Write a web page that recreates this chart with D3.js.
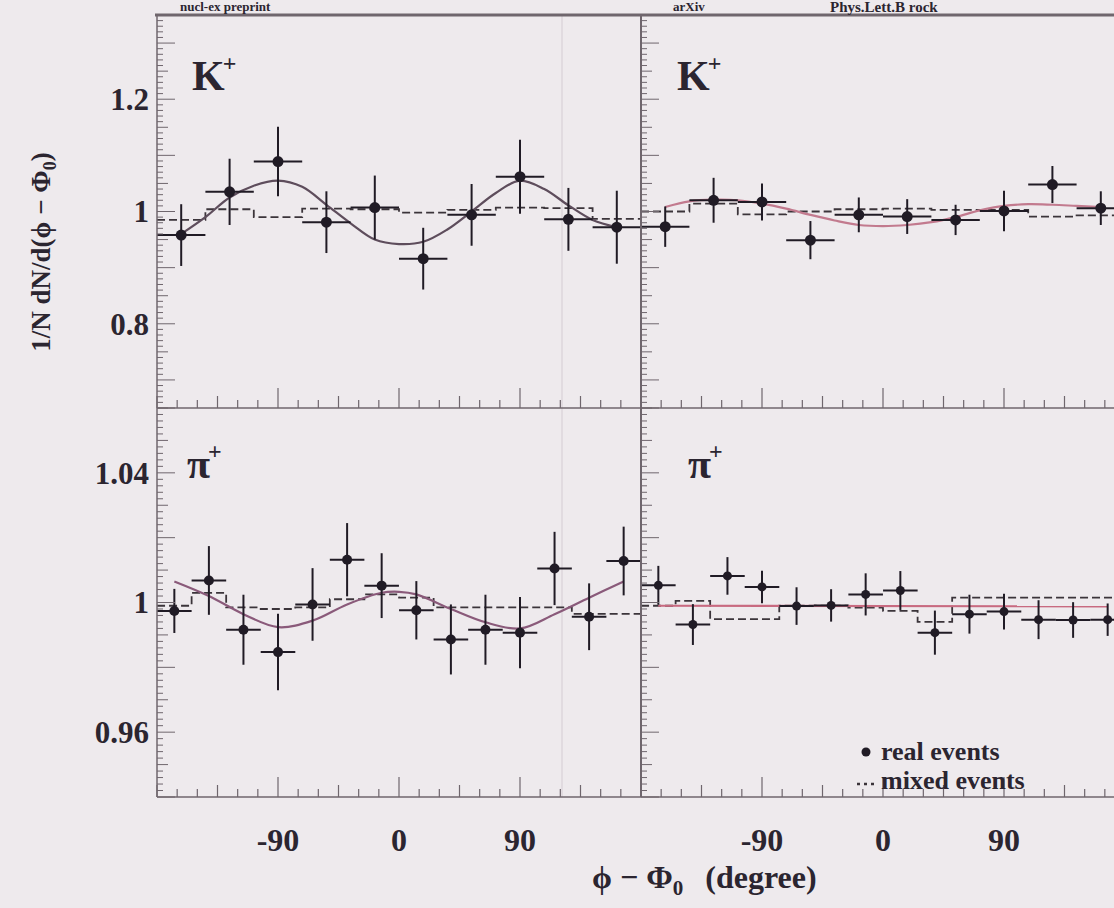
<!DOCTYPE html>
<html><head><meta charset="utf-8">
<script src="https://cdn.jsdelivr.net/npm/d3@7"></script>
<style>
html,body{margin:0;padding:0;background:#eeeaed;}
svg{display:block;}
text{font-family:"Liberation Serif","Times New Roman",serif;font-weight:bold;fill:#2b2530;}
</style></head><body>
<svg id="c" width="1114" height="908"></svg>
<script>
// ---------------- data ----------------
const kPhi  = [-162,-126,-90,-54,-18,18,54,90,126,162];
const piPhi = [-167.1,-141.4,-115.7,-90,-64.3,-38.6,-12.9,12.9,38.6,64.3,90,115.7,141.4,167.1];

// top-left K+
const kLReal  = [0.958,1.035,1.089,0.981,1.007,0.916,0.994,1.062,0.986,0.972];
const kLErr   = [0.055,0.059,0.062,0.055,0.057,0.055,0.055,0.066,0.056,0.065];
const kLMixed = [0.985,1.004,0.990,1.005,1.004,0.998,1.003,1.007,1.006,0.987];
const kLFitPhi = [-162,-144,-126,-108,-90,-72,-54,-36,-18,0,18,36,54,72,90,108,126,144,162];
const kLFitVal = [0.960,0.990,1.025,1.046,1.055,1.044,1.012,0.979,0.950,0.942,0.946,0.968,1.000,1.033,1.055,1.040,1.011,0.985,0.972];

// top-right K+
const kRReal  = [0.973,1.020,1.017,0.949,0.994,0.991,0.985,1.001,1.048,1.006];
const kRErr   = [0.036,0.040,0.033,0.034,0.031,0.031,0.027,0.036,0.033,0.030];
const kRMixed = [1.000,1.014,0.995,1.000,1.004,1.005,1.003,1.003,0.991,0.993];
const kRFitPhi = [-162,-144,-126,-108,-90,-72,-54,-36,-18,0,18,36,54,72,90,108,126,144,162];
const kRFitVal = [1.008,1.018,1.021,1.020,1.014,1.005,0.994,0.984,0.976,0.974,0.976,0.981,0.990,1.002,1.010,1.013,1.012,1.010,1.008];

// bottom-left pi+
const pLReal  = [0.9974,1.0068,0.9916,0.9847,0.9994,1.0132,1.0052,0.9976,0.9886,0.9916,0.9907,1.0105,0.9956,1.0128];
const pLErr   = [0.0068,0.0106,0.0108,0.0118,0.0112,0.0113,0.0100,0.0090,0.0108,0.0108,0.0110,0.0113,0.0103,0.0106];
const pLMixed = [0.9990,1.0030,0.9985,0.9980,0.9985,1.0010,1.0025,1.0015,0.9985,0.9985,0.9985,0.9985,0.9965,0.9965];
const pLFitPhi = [-167.1,-141.4,-115.7,-90,-64.3,-38.6,-12.9,0,12.9,38.6,64.3,90,115.7,141.4,167.1];
const pLFitVal = [1.0065,1.0020,0.9964,0.9924,0.9944,0.9994,1.0030,1.0033,1.0025,0.9980,0.9939,0.9920,0.9964,1.0015,1.0065];

// bottom-right pi+
const pRReal  = [1.0053,0.9932,1.0082,1.0048,0.9989,0.9991,1.0025,1.0037,0.9907,0.9964,0.9972,0.9947,0.9946,0.9947];
const pRErr   = [0.0060,0.0063,0.0058,0.0050,0.0058,0.0050,0.0065,0.0060,0.0068,0.0060,0.0055,0.0060,0.0055,0.0050];
const pRMixed = [0.9990,1.0005,0.9949,0.9949,0.9990,0.9990,0.9984,0.9974,0.9940,1.0015,1.0015,1.0015,1.0015,1.0015];
const pRFitPhi = [-167.1,167.1];
const pRFitVal = [0.9990,0.9988];

const xDomain = [-180,180];
const xLabelTicks = [-90,0,90];
const topDomain = [0.65,1.35];
const topLabelTicks = [0.8,1,1.2];
const botDomain = [0.94,1.06];
const botLabelTicks = [0.96,1,1.04];
const legendItems = ["real events","mixed events"];
const headerTexts = ["nucl-ex preprint","arXiv","Phys.Lett.B rock"];

// ---------------- layout ----------------
const svg = d3.select("#c");
const L = 157, M = 641, R = 1125, T = 15, MY = 408, B = 797;
const frameCol = "#6f666d", inkCol = "#201b25";

const xL = d3.scaleLinear().domain(xDomain).range([L, M]);
const xR = d3.scaleLinear().domain(xDomain).range([M, R]);
const yT = d3.scaleLinear().domain(topDomain).range([MY, T]);
const yB = d3.scaleLinear().domain(botDomain).range([B, MY]);

// faint scan line
svg.append("line").attr("x1",562).attr("x2",562).attr("y1",T).attr("y2",B)
  .attr("stroke","#d9d1d7").attr("stroke-width",1.2);

function panel(xs, ys, phi, real, err, mixed, fitPhi, fitVal, fitCol, r) {
  const g = svg.append("g");
  const n = phi.length, hw = 180 / n;
  const steps = [];
  phi.forEach((p, i) => { steps.push([p - hw, mixed[i]], [p + hw, mixed[i]]); });
  g.append("path").attr("d", d3.line().x(d => xs(d[0])).y(d => ys(d[1]))(steps))
    .attr("fill","none").attr("stroke","#3b343a").attr("stroke-width",1.8)
    .attr("stroke-dasharray","8,4");
  const fit = fitPhi.map((p, i) => [p, fitVal[i]]);
  g.append("path").attr("d", d3.line().curve(d3.curveCatmullRom).x(d => xs(d[0])).y(d => ys(d[1]))(fit))
    .attr("fill","none").attr("stroke",fitCol).attr("stroke-width",2.2);
  const pts = phi.map((p, i) => ({p, v: real[i], e: err[i]}));
  g.selectAll(".eh").data(pts).join("line")
    .attr("x1", d => xs(d.p - hw)).attr("x2", d => xs(d.p + hw))
    .attr("y1", d => ys(d.v)).attr("y2", d => ys(d.v))
    .attr("stroke", inkCol).attr("stroke-width", 2);
  g.selectAll(".ev").data(pts).join("line")
    .attr("x1", d => xs(d.p)).attr("x2", d => xs(d.p))
    .attr("y1", d => ys(d.v - d.e)).attr("y2", d => ys(d.v + d.e))
    .attr("stroke", inkCol).attr("stroke-width", 2);
  g.selectAll("circle").data(pts).join("circle")
    .attr("cx", d => xs(d.p)).attr("cy", d => ys(d.v)).attr("r", r)
    .attr("fill", inkCol);
}

panel(xL, yT, kPhi, kLReal, kLErr, kLMixed, kLFitPhi, kLFitVal, "#5e4d5c", 5.5);
panel(xR, yT, kPhi, kRReal, kRErr, kRMixed, kRFitPhi, kRFitVal, "#c27a8e", 5.5);
panel(xL, yB, piPhi, pLReal, pLErr, pLMixed, pLFitPhi, pLFitVal, "#8a5a7a", 5);
panel(xR, yB, piPhi, pRReal, pRErr, pRMixed, pRFitPhi, pRFitVal, "#c86a80", 4.5);

// ---------------- axes ----------------
function yTicks(x0, ys, dom, minor, mid, major) {
  const vals = d3.range(Math.round(dom[0]/minor), Math.round(dom[1]/minor) + 1).map(k => k * minor);
  svg.append("g").selectAll("line").data(vals).join("line")
    .attr("x1", x0).attr("y1", d => ys(d)).attr("y2", d => ys(d))
    .attr("x2", d => {
      const isMaj = Math.abs(d/major - Math.round(d/major)) < 1e-6;
      const isMid = Math.abs(d/mid - Math.round(d/mid)) < 1e-6;
      return x0 + (isMaj ? 18 : isMid ? 11 : 6);
    })
    .attr("stroke", frameCol).attr("stroke-width", 1);
}
yTicks(L, yT, topDomain, 0.01, 0.05, 0.1);
yTicks(M, yT, topDomain, 0.01, 0.05, 0.1);
yTicks(L, yB, botDomain, 0.002, 0.01, 0.02);
yTicks(M, yB, botDomain, 0.002, 0.01, 0.02);

function xTicks(xs, y0) {
  const vals = d3.range(-180, 181, 15);
  svg.append("g").selectAll("line").data(vals).join("line")
    .attr("x1", d => xs(d)).attr("x2", d => xs(d)).attr("y1", y0)
    .attr("y2", d => y0 - (xLabelTicks.includes(d) ? 20 : d % 45 === 0 ? 12 : 8))
    .attr("stroke", frameCol).attr("stroke-width", 1.2);
}
xTicks(xL, MY); xTicks(xR, MY); xTicks(xL, B); xTicks(xR, B);

// frame
const frame = svg.append("g").attr("stroke", frameCol).attr("fill","none");
frame.append("line").attr("x1", L - 2).attr("x2", 1114).attr("y1", T).attr("y2", T).attr("stroke-width", 3);
frame.append("line").attr("x1", L).attr("x2", L).attr("y1", T).attr("y2", B).attr("stroke-width", 1.5);
frame.append("line").attr("x1", M).attr("x2", M).attr("y1", T).attr("y2", B).attr("stroke-width", 2);
frame.append("line").attr("x1", L).attr("x2", 1114).attr("y1", MY).attr("y2", MY).attr("stroke-width", 1.5);
frame.append("line").attr("x1", L).attr("x2", 1114).attr("y1", B).attr("y2", B).attr("stroke-width", 1.5);

// tick labels
svg.append("g").selectAll("text").data(topLabelTicks).join("text")
  .attr("x", 149).attr("y", d => yT(d)).attr("dy", "0.35em")
  .attr("text-anchor", "end").attr("font-size", 31).text(d => d3.format("")(d));
svg.append("g").selectAll("text").data(botLabelTicks).join("text")
  .attr("x", 149).attr("y", d => yB(d)).attr("dy", "0.35em")
  .attr("text-anchor", "end").attr("font-size", 31).text(d => d3.format("")(d));
[xL, xR].forEach(xs => {
  svg.append("g").selectAll("text").data(xLabelTicks).join("text")
    .attr("x", d => xs(d)).attr("y", 851)
    .attr("text-anchor", "middle").attr("font-size", 32).text(d => d);
});

// panel labels
function plabel(x, y, base) {
  const t = svg.append("text").attr("x", x).attr("y", y).attr("font-size", 42);
  t.append("tspan").text(base);
  t.append("tspan").attr("font-size", 24).attr("dy", -19).attr("dx", -2).text("+");
}
plabel(192, 90, "K"); plabel(677, 90, "K");
plabel(187, 478, "π"); plabel(688, 478, "π");

// axis titles
const yt = svg.append("text").attr("transform", "translate(50,252) rotate(-90)")
  .attr("text-anchor", "middle").attr("font-size", 27);
yt.append("tspan").text("1/N dN/d(ϕ − Φ");
yt.append("tspan").attr("font-size", 18).attr("dy", 6).text("0");
yt.append("tspan").attr("dy", -6).text(")");

const xt = svg.append("text").attr("x", 592).attr("y", 888).attr("font-size", 32);
xt.append("tspan").text("ϕ − Φ");
xt.append("tspan").attr("font-size", 21).attr("dy", 7).text("0");
xt.append("tspan").attr("dy", -7).attr("dx", 22).text("(degree)");

// legend
svg.append("circle").attr("cx", 866).attr("cy", 752).attr("r", 4.5).attr("fill", inkCol);
svg.append("text").attr("x", 881).attr("y", 760).attr("font-size", 26).text(legendItems[0]);
svg.append("line").attr("x1", 857).attr("x2", 877).attr("y1", 784).attr("y2", 784)
  .attr("stroke", "#3b343a").attr("stroke-width", 2.5).attr("stroke-dasharray", "3,4");
svg.append("text").attr("x", 881).attr("y", 789).attr("font-size", 26).text(legendItems[1]);

// header text (cropped in the original scan)
svg.append("text").attr("x", 180).attr("y", 11).attr("font-size", 13).attr("font-weight", "normal")
  .attr("fill", "#a59aa2").text(headerTexts[0]);
svg.append("text").attr("x", 673).attr("y", 11).attr("font-size", 13).attr("font-weight", "normal")
  .attr("fill", "#a59aa2").text(headerTexts[1]);
svg.append("text").attr("x", 830).attr("y", 12).attr("font-size", 15)
  .attr("fill", "#b2343a").text(headerTexts[2]);
</script></body></html>
